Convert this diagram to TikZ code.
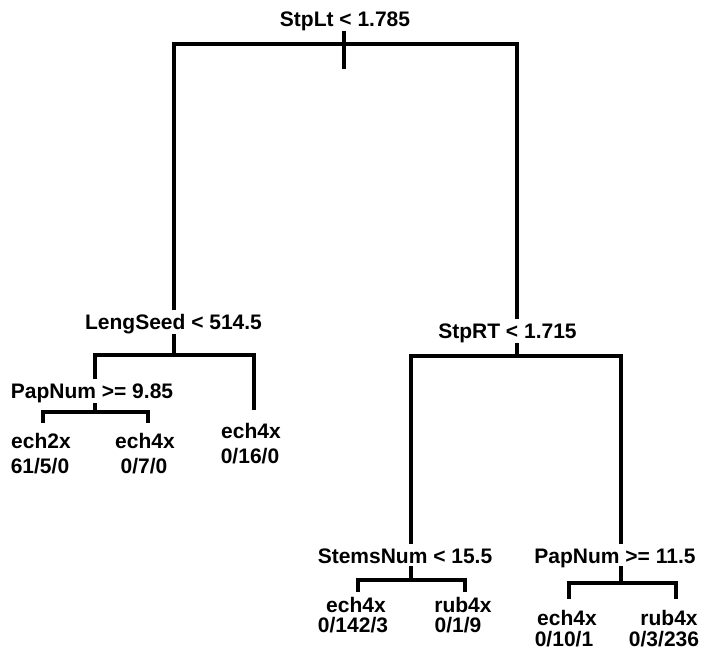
\documentclass[tikz,border=0pt]{standalone}
\usepackage{fontspec}
\setmainfont{Liberation Sans}
\begin{document}
\begin{tikzpicture}[x=1pt,y=-1pt,
  lbl/.style={anchor=base,inner sep=0pt,font=\fontsize{21}{25}\selectfont\bfseries},
  edge/.style={line width=3.5pt,line join=miter,line cap=rect}]
\useasboundingbox (0,0) rectangle (708,649);
% labels
\node[lbl] (root) at (345,26) {StpLt < 1.785};
\node[lbl] (ls) at (173.5,329) {LengSeed < 514.5};
\node[lbl] (pn1) at (92,398) {PapNum >= 9.85};
\node[lbl] (rt) at (507.5,338) {StpRT < 1.715};
\node[lbl] (sn) at (405,563) {StemsNum < 15.5};
\node[lbl] (pn2) at (615,563) {PapNum >= 11.5};
% leaves
\node[lbl] (l1a) at (41,448) {ech2x};
\node[lbl] (l1b) at (40,473) {61/5/0};
\node[lbl] (l2a) at (145,448) {ech4x};
\node[lbl] (l2b) at (144,473) {0/7/0};
\node[lbl] (l3a) at (251,438) {ech4x};
\node[lbl] (l3b) at (250,463) {0/16/0};
\node[lbl] (l4a) at (356,612) {ech4x};
\node[lbl] (l4b) at (353,632) {0/142/3};
\node[lbl] (l5a) at (463,612) {rub4x};
\node[lbl] (l5b) at (458,632) {0/1/9};
\node[lbl] (l6a) at (567,625) {ech4x};
\node[lbl] (l6b) at (564,646) {0/10/1};
\node[lbl] (l7a) at (669,625) {rub4x};
\node[lbl] (l7b) at (664,646) {0/3/236};
% junction coordinates
\coordinate (r0) at (344,33); \coordinate (r1) at (344,67);
\coordinate (rL) at (174,44); \coordinate (rR) at (517,44);
\coordinate (lsT) at (174,308);
\coordinate (rtT) at (517,317);
\coordinate (ls0) at (174,336); \coordinate (ls1) at (174,355);
\coordinate (lsL) at (95,355); \coordinate (lsR) at (254,355);
\coordinate (pn1T) at (95,377); \coordinate (l3T) at (254,408);
\coordinate (pn10) at (95,405); \coordinate (pn11) at (95,412);
\coordinate (pn1L) at (43,412); \coordinate (pn1R) at (148,412);
\coordinate (l1T) at (43,421); \coordinate (l2T) at (148,421);
\coordinate (rt0) at (517,345); \coordinate (rt1) at (517,356);
\coordinate (rtL) at (411,356); \coordinate (rtR) at (621,356);
\coordinate (snT) at (411,542); \coordinate (pn2T) at (621,542);
\coordinate (sn0) at (411,568); \coordinate (sn1) at (411,580);
\coordinate (snL) at (358,580); \coordinate (snR) at (465,580);
\coordinate (l4T) at (358,590); \coordinate (l5T) at (465,590);
\coordinate (pn20) at (621,568); \coordinate (pn21) at (621,583);
\coordinate (pn2L) at (569,583); \coordinate (pn2R) at (676,583);
\coordinate (l6T) at (569,597); \coordinate (l7T) at (676,597);
% connectors
\draw[edge] (r0) -- (r1);
\draw[edge] (lsT) -- (rL) -- (rR) -- (rtT);
\draw[edge] (ls0) -- (ls1);
\draw[edge] (pn1T) -- (lsL) -- (lsR) -- (l3T);
\draw[edge] (pn10) -- (pn11);
\draw[edge] (l1T) -- (pn1L) -- (pn1R) -- (l2T);
\draw[edge] (rt0) -- (rt1);
\draw[edge] (snT) -- (rtL) -- (rtR) -- (pn2T);
\draw[edge] (sn0) -- (sn1);
\draw[edge] (l4T) -- (snL) -- (snR) -- (l5T);
\draw[edge] (pn20) -- (pn21);
\draw[edge] (l6T) -- (pn2L) -- (pn2R) -- (l7T);
\end{tikzpicture}
\end{document}
